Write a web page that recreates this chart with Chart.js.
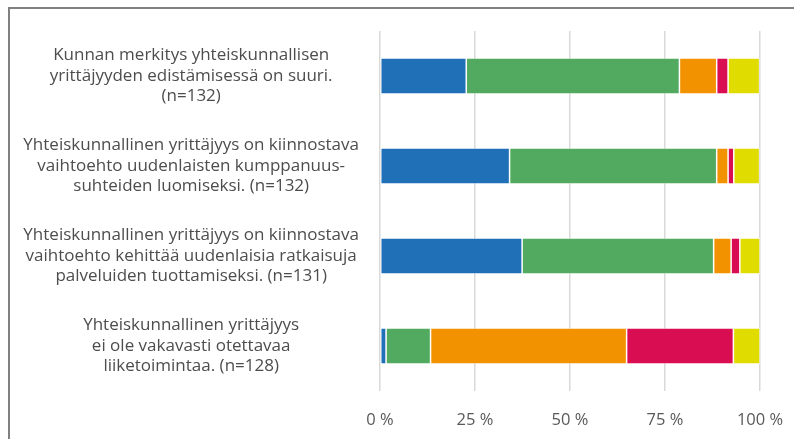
<!DOCTYPE html>
<html>
<head>
<meta charset="utf-8">
<script src="https://cdn.jsdelivr.net/npm/chart.js@4/dist/chart.umd.min.js"></script>
<style>
  html, body { margin: 0; padding: 0; background: #fff; overflow: hidden; }
  #wrap { position: relative; width: 794px; height: 439px; }
  #frame {
    position: absolute; left: 8px; top: 7px; width: 800px; height: 500px;
    border-left: 2px solid #808080; border-top: 2px solid #808080;
  }
  canvas { position: absolute; left: 0; top: 0; }
</style>
</head>
<body>
<div id="wrap">
  <div id="frame"></div>
  <canvas id="chart" width="794" height="439"></canvas>
</div>
<script>
const categories = [
  ["Kunnan merkitys yhteiskunnallisen", "yrittäjyyden edistämisessä on suuri.", "(n=132)"],
  ["Yhteiskunnallinen yrittäjyys on kiinnostava", "vaihtoehto uudenlaisten kumppanuus-", "suhteiden luomiseksi. (n=132)"],
  ["Yhteiskunnallinen yrittäjyys on kiinnostava", "vaihtoehto kehittää uudenlaisia ratkaisuja", "palveluiden tuottamiseksi. (n=131)"],
  ["Yhteiskunnallinen yrittäjyys", "ei ole vakavasti otettavaa", "liiketoimintaa. (n=128)"],
];
const fullyAgree = [22.7, 34.1, 37.4, 1.6];
const somewhatAgree = [56.1, 54.5, 50.4, 11.7];
const somewhatDisagree = [9.8, 3.0, 4.6, 51.6];
const fullyDisagree = [3.0, 1.5, 2.3, 28.1];
const cantSay = [8.3, 6.8, 5.3, 7.0];
const xTicks = [0, 25, 50, 75, 100];

function dataSetParams(label, data, color) {
  return {
    label: label,
    data: data,
    backgroundColor: color,
    borderColor: "rgba(255,255,255,0.55)",
    borderWidth: 0.75,
    borderSkipped: false,
    categoryPercentage: 0.8,
    barPercentage: 0.5,
  };
}

// drop the automatic edge padding so the plot area sits exactly where the layout puts it
function noEdgePadding(axis) {
  axis.paddingLeft = 0;
  axis.paddingRight = 0;
  axis.paddingTop = 0;
  axis.paddingBottom = 0;
}

const chart = new Chart(document.getElementById("chart"), {
  type: "bar",
  data: {
    labels: categories,
    datasets: [
      dataSetParams("Täysin samaa mieltä", fullyAgree, "#1f70b7"),
      dataSetParams("Jokseenkin samaa mieltä", somewhatAgree, "#52aa61"),
      dataSetParams("Jokseenkin eri mieltä", somewhatDisagree, "#f39200"),
      dataSetParams("Täysin eri mieltä", fullyDisagree, "#d90d52"),
      dataSetParams("En osaa sanoa", cantSay, "#e0dc00"),
    ],
  },
  options: {
    indexAxis: "y",
    responsive: false,
    animation: false,
    layout: { padding: { left: 10, right: 34, top: 31, bottom: 0 } },
    plugins: {
      legend: { display: false },
      tooltip: { enabled: false },
    },
    scales: {
      x: {
        stacked: true,
        min: 0,
        max: 100,
        afterFit: (axis) => { axis.height = 48; noEdgePadding(axis); },
        afterBuildTicks: (axis) => { axis.ticks = xTicks.map((v) => ({ value: v })); },
        grid: { color: "#d9d9d9", lineWidth: 1.5, drawTicks: false },
        border: { display: false },
        ticks: {
          color: "#595959",
          padding: 19,
          font: { family: "'Open Sans', sans-serif", size: 16.5 },
          callback: (v) => v + " %",
        },
      },
      y: {
        stacked: true,
        afterFit: (axis) => { axis.width = 370; noEdgePadding(axis); },
        grid: { display: false },
        border: { display: false },
        ticks: {
          color: "#4d4d4d",
          crossAlign: "center",
          padding: 13,
          font: { family: "'Open Sans', sans-serif", size: 17, lineHeight: 1.2 },
        },
      },
    },
  },
});
</script>
</body>
</html>
